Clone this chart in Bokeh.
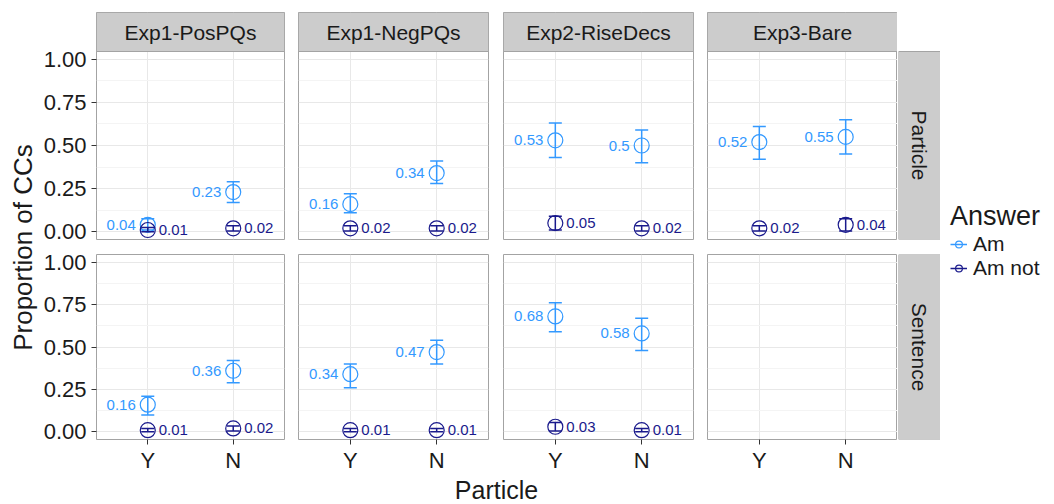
import math
import pandas as pd
from bokeh.plotting import figure
from bokeh.models import (ColumnDataSource, FactorRange, Range1d, FixedTicker,
                          NumeralTickFormatter, Label, Legend, LegendItem, BoxAnnotation)
from bokeh.layouts import row, column
from bokeh.embed import file_html
from bokeh.resources import INLINE
from bokeh.core.properties import value

FONT = "Liberation Sans"

# ---------------- data ----------------
experiments = ["Exp1-PosPQs", "Exp1-NegPQs", "Exp2-RiseDecs", "Exp3-Bare"]
conditions = ["Particle", "Sentence"]
particles = ["Y", "N"]
answers = ["Am", "Am not"]

cond_col = (["Particle"] * 16) + (["Sentence"] * 12)
exp_col = (["Exp1-PosPQs"] * 4 + ["Exp1-NegPQs"] * 4 + ["Exp2-RiseDecs"] * 4 + ["Exp3-Bare"] * 4
           + ["Exp1-PosPQs"] * 4 + ["Exp1-NegPQs"] * 4 + ["Exp2-RiseDecs"] * 4)
answer_col = ["Am", "Am", "Am not", "Am not"] * 7
particle_col = ["Y", "N", "Y", "N"] * 7
proportion = [0.04, 0.23, 0.01, 0.02,
              0.16, 0.34, 0.02, 0.02,
              0.53, 0.50, 0.05, 0.02,
              0.52, 0.55, 0.02, 0.04,
              0.16, 0.36, 0.01, 0.02,
              0.34, 0.47, 0.01, 0.01,
              0.68, 0.58, 0.03, 0.01]
lower = [0.010, 0.17, 0.000, 0.005,
         0.11, 0.28, 0.005, 0.005,
         0.43, 0.40, 0.010, 0.005,
         0.42, 0.45, 0.005, 0.005,
         0.10, 0.29, 0.000, 0.005,
         0.26, 0.40, 0.000, 0.000,
         0.59, 0.48, 0.005, 0.000]
upper = [0.075, 0.29, 0.025, 0.035,
         0.22, 0.41, 0.035, 0.035,
         0.63, 0.59, 0.090, 0.035,
         0.61, 0.65, 0.035, 0.075,
         0.21, 0.42, 0.020, 0.035,
         0.40, 0.54, 0.020, 0.020,
         0.76, 0.67, 0.055, 0.020]

y_ticks = [0.0, 0.25, 0.5, 0.75, 1.0]
y_minor = [0.125, 0.375, 0.625, 0.875]

df = pd.DataFrame(dict(condition=cond_col, experiment=exp_col, answer=answer_col,
                       particle=particle_col, prop=proportion, lower=lower, upper=upper))
df["label"] = [f"{round(v, 2):g}" for v in df["prop"]]

COLORS = {"Am": "#3399FF", "Am not": "#1A1A8C"}
BORDER = "#A3A3A3"
MAJOR = "#E8E8E8"
MINOR = "#F4F4F4"
STRIP = "#CCCCCC"
TXT = "#1A1A1A"

# ---------------- geometry ----------------
Y0, Y1 = -0.045, 1.045
PANEL_H = 188
STRIP_H = 39
STRIP_UNITS = (Y1 - Y0) * STRIP_H / PANEL_H

col_w = [251, 205, 204, 197]
col_left = [54, 7, 7, 7]
col_right = [7, 8, 7, 0]
row_h = [246, 229]
row_top = [12, 8]
row_bot = [7, 33]
RSTRIP_W = 43


def base_fig(w, h, left, right, top, bottom, **kw):
    return figure(width=w, height=h, output_backend="svg", toolbar_location=None,
                  min_border_left=left, min_border_right=right,
                  min_border_top=top, min_border_bottom=bottom, **kw)


def bare(p):
    p.xgrid.visible = False
    p.ygrid.visible = False
    p.outline_line_color = None
    return p


def y_range_for(ri):
    return Range1d(Y0, Y1 + STRIP_UNITS if ri == 0 else Y1)


def make_panel(ci, ri):
    p = base_fig(col_w[ci], row_h[ri], col_left[ci], col_right[ci], row_top[ri], row_bot[ri],
                 x_range=FactorRange(factors=particles, range_padding=0.1,
                                     range_padding_units="absolute"),
                 y_range=y_range_for(ri),
                 x_axis_location="below" if ri == 1 else None,
                 y_axis_location="left" if ci == 0 else None)
    p.outline_line_color = BORDER
    p.outline_line_width = 1
    p.xgrid.grid_line_color = MAJOR
    p.ygrid.ticker = FixedTicker(ticks=y_ticks, minor_ticks=y_minor)
    p.ygrid.grid_line_color = MAJOR
    p.ygrid.minor_grid_line_color = MINOR
    axes = []
    if ci == 0:
        ax = p.yaxis[0]
        ax.ticker = FixedTicker(ticks=y_ticks)
        ax.formatter = NumeralTickFormatter(format="0.00")
        ax.major_label_standoff = 5
        axes.append(ax)
    if ri == 1:
        p.xaxis[0].major_label_standoff = 3
        axes.append(p.xaxis[0])
    for ax in axes:
        ax.axis_line_color = None
        ax.major_tick_out = 5
        ax.major_tick_in = 0
        ax.major_tick_line_color = "#333333"
        ax.minor_tick_line_color = None
        ax.major_label_text_font = FONT
        ax.major_label_text_font_size = "22px"
        ax.major_label_text_color = TXT

    if ri == 0:
        # facet strip on top of the panel
        p.add_layout(BoxAnnotation(bottom=Y1, fill_color=STRIP, fill_alpha=1.0,
                                   line_color=BORDER, line_alpha=1.0, line_width=1))
        p.add_layout(Label(x=1.0, y=Y1 + STRIP_UNITS / 2, text=experiments[ci],
                           text_align="center", text_baseline="middle",
                           text_font=FONT, text_font_size="21px", text_color=TXT))

    sub = df[(df.condition == conditions[ri]) & (df.experiment == experiments[ci])]
    for ans in answers:
        s = sub[sub.answer == ans]
        if len(s) == 0:
            continue
        src = ColumnDataSource(s)
        c = COLORS[ans]
        p.segment(x0="particle", y0="lower", x1="particle", y1="upper", source=src,
                  line_color=c, line_width=1.5)
        p.scatter(x="particle", y="upper", source=src, marker="dash", size=13,
                  line_color=c, line_width=1.5)
        p.scatter(x="particle", y="lower", source=src, marker="dash", size=13,
                  line_color=c, line_width=1.5)
        p.scatter(x="particle", y="prop", source=src, marker="circle", size=15,
                  fill_color=None, line_color=c, line_width=1.2)
        if ans == "Am":
            p.text(x="particle", y="prop", text="label", source=src, x_offset=-12,
                   text_align="right", text_baseline="middle", text_font=value(FONT),
                   text_font_size="15px", text_color=c)
        else:
            p.text(x="particle", y="prop", text="label", source=src, x_offset=11,
                   text_align="left", text_baseline="middle", text_font=value(FONT),
                   text_font_size="15px", text_color=c)
    return p


def make_rstrip(ri, text):
    p = base_fig(RSTRIP_W, row_h[ri], 1, 0, row_top[ri], row_bot[ri],
                 x_range=Range1d(0, 1), y_range=y_range_for(ri),
                 x_axis_location=None, y_axis_location=None)
    p.xgrid.visible = False
    p.ygrid.visible = False
    p.outline_line_color = None
    p.add_layout(BoxAnnotation(top=Y1, fill_color=STRIP, fill_alpha=1.0,
                               line_color=BORDER, line_alpha=1.0, line_width=1))
    p.add_layout(Label(x=0.5, y=(Y0 + Y1) / 2, text=text, angle=-math.pi / 2, text_align="center",
                       text_baseline="middle", text_font=FONT, text_font_size="21px",
                       text_color=TXT))
    return p


top_row = row([make_panel(i, 0) for i in range(4)] + [make_rstrip(0, conditions[0])])
bot_row = row([make_panel(i, 1) for i in range(4)] + [make_rstrip(1, conditions[1])])

main_w = sum(col_w) + RSTRIP_W
XT_H = 29
xt = bare(base_fig(main_w, XT_H, 0, 0, 0, 0, x_range=Range1d(0, main_w), y_range=Range1d(0, XT_H),
                   x_axis_location=None, y_axis_location=None))
xt.add_layout(Label(x=456, y=XT_H - 14.5, text="Particle", text_align="center",
                    text_baseline="middle", text_font=FONT, text_font_size="25px",
                    text_color=TXT))

main = column(top_row, bot_row, xt)

TOTAL_H = sum(row_h) + XT_H
yt = bare(base_fig(40, TOTAL_H, 0, 0, 0, 0, x_range=Range1d(0, 40), y_range=Range1d(0, TOTAL_H),
                   x_axis_location=None, y_axis_location=None))
yt.add_layout(Label(x=22, y=TOTAL_H - 247, text="Proportion of CCs", angle=math.pi / 2,
                    text_align="center", text_baseline="middle", text_font=FONT,
                    text_font_size="26px", text_color=TXT))

lg = bare(base_fig(112, 480, 0, 0, 0, 0, x_range=Range1d(0, 1), y_range=Range1d(0, 1),
                   x_axis_location=None, y_axis_location=None))
items = []
for ans in answers:
    c = COLORS[ans]
    nan_src = ColumnDataSource(dict(x=[float("nan")], y=[float("nan")]))
    r1 = lg.segment(x0="x", y0="y", x1="x", y1="y", source=nan_src, line_color=c, line_width=1.5)
    r2 = lg.scatter(x="x", y="y", source=nan_src, marker="circle", size=13, fill_color=None,
                    line_color=c, line_width=1.2)
    items.append(LegendItem(label=ans, renderers=[r1, r2]))
legend = Legend(items=items, title="Answer", location="center_left", margin=10, padding=1,
                border_line_color=None, background_fill_alpha=0,
                title_text_font=FONT, title_text_font_size="27px", title_text_font_style="normal",
                title_text_color=TXT, title_standoff=-4,
                label_text_font=FONT, label_text_font_size="21px", label_text_color=TXT,
                glyph_width=17, glyph_height=17, label_height=17, label_standoff=6, spacing=-7)
lg.add_layout(legend)

layout = row(yt, main, lg)

open("out.html", "w").write(file_html(layout, INLINE))
